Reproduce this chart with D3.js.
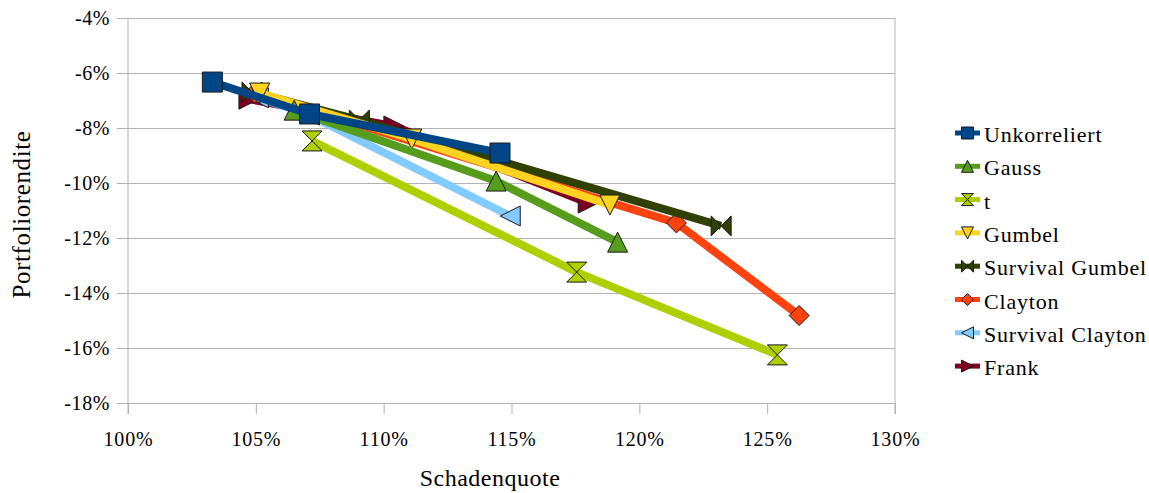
<!DOCTYPE html>
<html><head><meta charset="utf-8">
<script src="https://cdn.jsdelivr.net/npm/d3@7"></script>
<style>
html,body{margin:0;padding:0;background:#fff;}
</style></head>
<body><svg id="c" width="1149" height="493" font-family="Times New Roman"></svg>
<script>
// ---- data ----
const xTicks = [100, 105, 110, 115, 120, 125, 130];
const yTicks = [-18, -16, -14, -12, -10, -8, -6, -4];
const seriesNames = ["Unkorreliert", "Gauss", "t", "Gumbel", "Survival Gumbel", "Clayton", "Survival Clayton", "Frank"];
const unkorreliertX = [103.3, 107.1, 114.55];
const unkorreliertY = [-6.33, -7.49, -8.91];
const gaussX = [106.5, 114.4, 119.15];
const gaussY = [-7.35, -9.93, -12.15];
const tX = [107.2, 117.55, 125.4];
const tY = [-8.47, -13.24, -16.25];
const gumbelX = [105.15, 111.1, 118.85];
const gumbelY = [-6.73, -8.4, -10.8];
const survGumbelX = [104.85, 109.05, 123.2];
const survGumbelY = [-6.69, -7.71, -11.56];
const claytonX = [104.95, 121.45, 126.25];
const claytonY = [-6.73, -11.45, -14.82];
const survClaytonX = [105.1, 107.1, 114.95];
const survClaytonY = [-6.9, -7.53, -11.2];
const frankX = [104.73, 110.4, 118.0];
const frankY = [-6.95, -7.93, -10.73];

const colors = ["#004586", "#579d1c", "#aecf00", "#ffd320", "#314004", "#ff420e", "#83caff", "#7e0021"];
const shapes = ["square", "up", "hourglass", "down", "bowtie", "diamond", "left", "right"];
const xs = [unkorreliertX, gaussX, tX, gumbelX, survGumbelX, claytonX, survClaytonX, frankX];
const ys = [unkorreliertY, gaussY, tY, gumbelY, survGumbelY, claytonY, survClaytonY, frankY];

const series = seriesNames.map((n, i) => ({
  name: n, color: colors[i], shape: shapes[i],
  pts: xs[i].map((x, j) => ({x: x, y: ys[i][j]}))
}));

// ---- layout ----
const L = 128, R = 895, T = 18, B = 403;
const svg = d3.select("#c");
const x = d3.scaleLinear().domain([100, 130]).range([L, R]);
const y = d3.scaleLinear().domain([-18, -4]).range([B, T]);
const grid = "#b3b3b3";
const FONT = "Times New Roman";

function shapePath(s, h) {
  switch (s) {
    case "square": return `M${-h},${-h}H${h}V${h}H${-h}Z`;
    case "up": return `M0,${-h}L${h},${h}L${-h},${h}Z`;
    case "down": return `M${-h},${-h}L${h},${-h}L0,${h}Z`;
    case "left": return `M${-h},0L${h},${-h}L${h},${h}Z`;
    case "right": return `M${h},0L${-h},${-h}L${-h},${h}Z`;
    case "hourglass": return `M${-h},${-h}L${h},${-h}L${-h},${h}L${h},${h}Z`;
    case "bowtie": return `M${-h},${-h}L${h},${h}L${h},${-h}L${-h},${h}Z`;
    case "diamond": return `M0,${-h}L${h},0L0,${h}L${-h},0Z`;
  }
}

const yAxis = d3.axisLeft(y).tickValues(yTicks).tickSize(-(R - L)).tickPadding(18)
  .tickFormat(d => d + "%");
const gy = svg.append("g").attr("transform", `translate(${L},0)`).call(yAxis);
gy.attr("font-family", FONT).attr("font-size", 20);
gy.select(".domain").remove();
gy.selectAll(".tick line").attr("stroke", grid).attr("x1", -11);
gy.selectAll(".tick text").attr("font-family", FONT).attr("font-size", 20)
  .attr("letter-spacing", 0.6).attr("fill", "#000");

const xAxis = d3.axisBottom(x).tickValues(xTicks).tickSize(11).tickPadding(18)
  .tickFormat(d => d + "%");
const gx = svg.append("g").attr("transform", `translate(0,${B})`).call(xAxis);
gx.attr("font-family", FONT).attr("font-size", 20);
gx.select(".domain").remove();
gx.selectAll(".tick line").attr("stroke", grid);
gx.selectAll(".tick text").attr("font-family", FONT).attr("font-size", 20)
  .attr("letter-spacing", 0.8).attr("fill", "#000");

svg.append("line").attr("x1", L).attr("x2", L).attr("y1", T).attr("y2", B + 11).attr("stroke", grid);
svg.append("line").attr("x1", R).attr("x2", R).attr("y1", T).attr("y2", B + 11).attr("stroke", grid);

svg.append("text").attr("x", 490).attr("y", 486).attr("text-anchor", "middle")
  .attr("font-family", FONT).attr("font-size", 24).attr("letter-spacing", 0.5)
  .text("Schadenquote");
svg.append("text").attr("transform", `translate(30,${(T + B) / 2 + 4}) rotate(-90)`)
  .attr("text-anchor", "middle").attr("font-family", FONT).attr("font-size", 25)
  .attr("letter-spacing", 0.6).text("Portfoliorendite");

const line = d3.line().x(d => x(d.x)).y(d => y(d.y));
const plot = svg.append("g");
series.slice().reverse().forEach(s => {
  const g = plot.append("g");
  g.append("path").attr("d", line(s.pts)).attr("fill", "none")
    .attr("stroke", s.color).attr("stroke-width", 8).attr("stroke-linejoin", "round");
  g.selectAll("path.m").data(s.pts).enter().append("path").attr("class", "m")
    .attr("transform", d => `translate(${x(d.x)},${y(d.y)})`)
    .attr("d", shapePath(s.shape, 10)).attr("fill", s.color)
    .attr("stroke", "#1a1a1a").attr("stroke-width", 1);
});

const leg = svg.append("g");
series.forEach((s, i) => {
  const cy = 133 + i * 33.3;
  leg.append("line").attr("x1", 955).attr("x2", 980).attr("y1", cy).attr("y2", cy)
    .attr("stroke", s.color).attr("stroke-width", 5);
  leg.append("path").attr("transform", `translate(967.5,${cy})`)
    .attr("d", shapePath(s.shape, 6)).attr("fill", s.color)
    .attr("stroke", "#1a1a1a").attr("stroke-width", 1);
  leg.append("text").attr("x", 984).attr("y", cy + 9)
    .attr("font-family", FONT).attr("font-size", 22).attr("letter-spacing", 0.8)
    .text(s.name);
});
</script></body></html>
